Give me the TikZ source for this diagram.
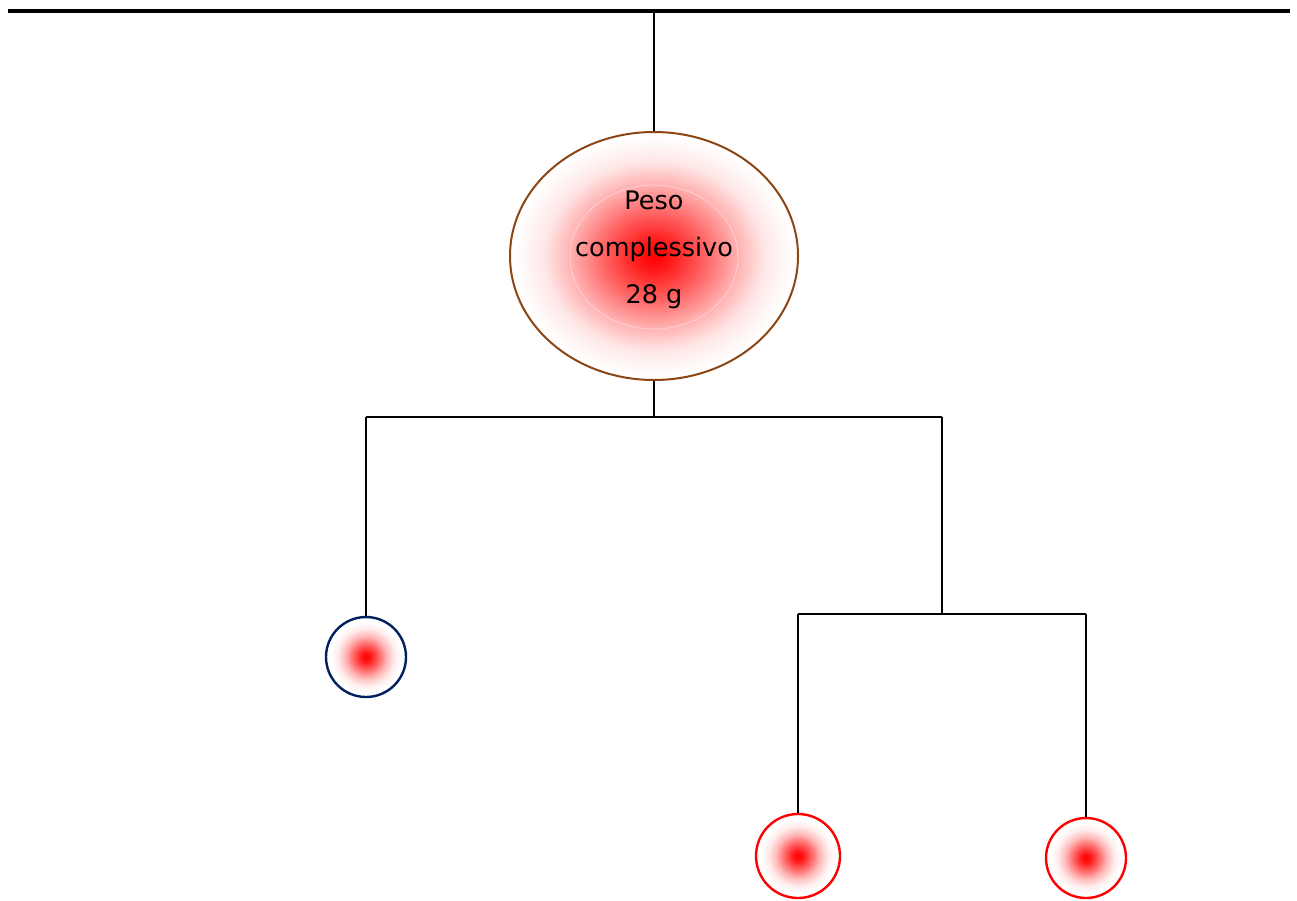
\documentclass[tikz,border=0pt]{standalone}
\usepackage{fontspec}
\setmainfont{DejaVu Sans}
\usetikzlibrary{shapes.geometric}
\pgfdeclareradialshading{redglow}{\pgfpoint{0bp}{0bp}}{color(0bp)=(red); color(3bp)=(red!90!white); color(8bp)=(red!60!white); color(13bp)=(red!28!white); color(18bp)=(red!7!white); color(22bp)=(white); color(50bp)=(white)}
\pgfdeclareradialshading{redglowbig}{\pgfpoint{0bp}{0bp}}{color(0bp)=(red); color(3bp)=(red!90!white); color(8bp)=(red!65!white); color(14bp)=(red!33!white); color(19bp)=(red!10!white); color(23bp)=(red!2!white); color(25bp)=(white); color(50bp)=(white)}
\definecolor{brownline}{RGB}{140,70,20}
\definecolor{navyline}{RGB}{0,32,96}
\tikzset{
  wire/.style={line width=2pt, black},
  bigball/.style={ellipse, draw=brownline, line width=2pt, shading=redglowbig, minimum width=288pt, minimum height=248pt, inner sep=0pt},
  ball/.style={circle, line width=2.4pt, shading=redglow, minimum size=#1, inner sep=0pt},
  label/.style={font=\fontsize{25.5}{47}\selectfont, align=center, text=black}
}
\begin{document}
\begin{tikzpicture}[x=1pt,y=-1pt]
\useasboundingbox[fill=white] (0,0) rectangle (1297,900);
% top bar
\coordinate (barL) at (8,11);
\coordinate (barR) at (1290,11);
\draw[line width=4pt] (barL) -- (barR);
\coordinate (top) at (654,11);
% main ellipse
\node[bigball] (main) at (654,256) {};
\node[ellipse, draw=red!20, line width=1pt, minimum width=168pt, minimum height=144pt] (inner) at (654,257) {};
\node[label] (txt) at (654,250) {Peso\\complessivo\\28 g};
\draw[wire] (top) -- (main.north);
% branches
\coordinate (j1) at (654,417);
\coordinate (l1) at (366,417);
\coordinate (r1) at (942,417);
\coordinate (j2) at (942,614);
\coordinate (l2) at (798,614);
\coordinate (r2) at (1086,614);
\node[ball=80pt, draw=navyline] (c1) at (366,657) {};
\node[ball=84pt, draw=red] (c2) at (798,856) {};
\node[ball=80pt, draw=red] (c3) at (1086,858) {};
\draw[wire] (main.south) -- (j1);
\draw[wire] (l1) -- (r1);
\draw[wire] (l1) -- (c1.north);
\draw[wire] (r1) -- (j2);
\draw[wire] (l2) -- (r2);
\draw[wire] (l2) -- (c2.north);
\draw[wire] (r2) -- (c3.north);
\end{tikzpicture}
\end{document}
